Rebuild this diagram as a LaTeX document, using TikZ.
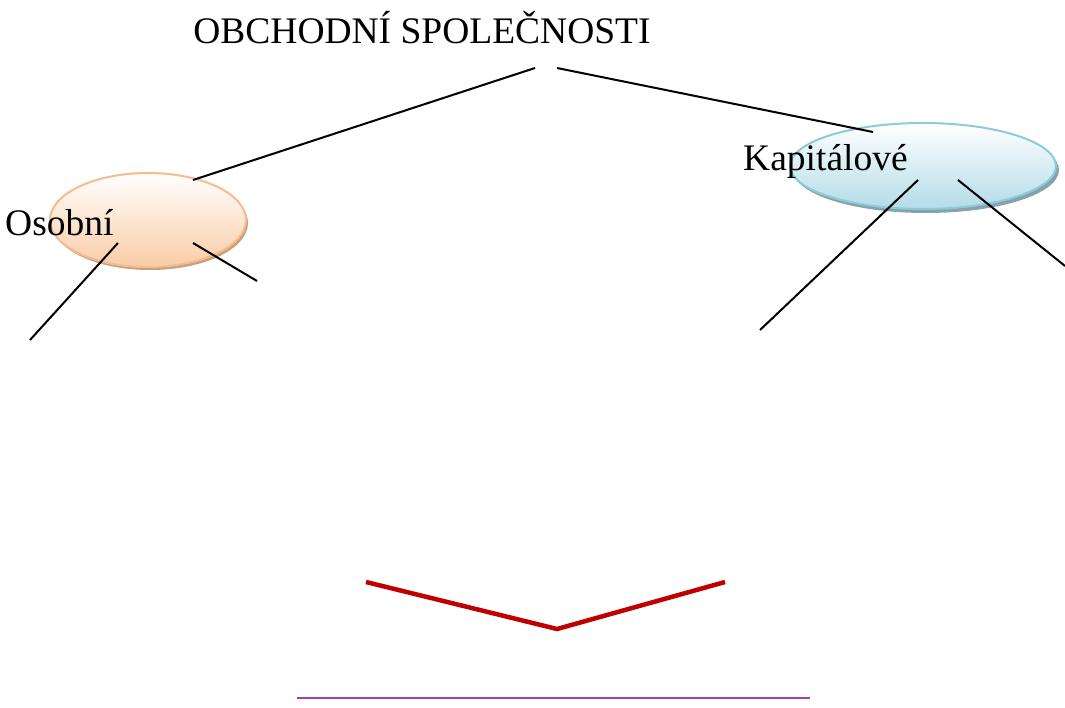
\documentclass[tikz,border=0pt]{standalone}
\usepackage{fontspec}
\setmainfont{Liberation Serif}
\usetikzlibrary{shapes.geometric,shadows}
\definecolor{peachedge}{HTML}{F6BC8E}
\definecolor{peachfill}{HTML}{F9CCA6}
\definecolor{peachshadow}{HTML}{C9A07E}
\definecolor{skyedge}{HTML}{8DCBDA}
\definecolor{skyfill}{HTML}{B3DCE8}
\definecolor{skyshadow}{HTML}{86A3AC}
\definecolor{darkred}{HTML}{C00000}
\definecolor{plum}{HTML}{A040A8}
\tikzset{
  x=1pt, y=-1pt,
  label text/.style={font=\fontsize{37.5}{44}\selectfont, inner sep=0pt},
  branch/.style={draw=black, line width=2pt},
}
\begin{document}
\begin{tikzpicture}
\useasboundingbox (0,0) rectangle (1065,708);

% heading
\node[label text] (title) at (422,28) {OBCHODNÍ SPOLEČNOSTI};

% left bubble with drop shadow
\fill[peachshadow] (150,223) ellipse [x radius=98, y radius=47];
\shade[top color=white, bottom color=peachfill, draw=peachedge, line width=2pt]
  (148,220) ellipse [x radius=98, y radius=47];
\node[label text, anchor=west] (osobni) at (5,223) {Osobní};

% right bubble with drop shadow
\fill[skyshadow] (926,170) ellipse [x radius=133, y radius=43];
\shade[top color=white, bottom color=skyfill, draw=skyedge, line width=2pt]
  (923,166) ellipse [x radius=133, y radius=43];
\node[label text, anchor=west] (kapitalove) at (743,161) {Kapitálové};

% branch end points
\coordinate (tL) at (535,68);
\coordinate (tR) at (557,68);
\coordinate (oT) at (193,180);
\coordinate (kT) at (873,132);
\coordinate (oA) at (118,243);
\coordinate (oA2) at (30,340);
\coordinate (oB) at (193,243);
\coordinate (oB2) at (257,281);
\coordinate (kA) at (918,180);
\coordinate (kA2) at (760,330);
\coordinate (kB) at (958,180);
\coordinate (kB2) at (1065,266);

\draw[branch] (tL) -- (oT);
\draw[branch] (tR) -- (kT);
\draw[branch] (oA) -- (oA2);
\draw[branch] (oB) -- (oB2);
\draw[branch] (kA) -- (kA2);
\draw[branch] (kB) -- (kB2);

% red chevron
\coordinate (vL) at (366,582);
\coordinate (vM) at (557,629);
\coordinate (vR) at (725,582);
\draw[darkred, line width=4.5pt] (vL) -- (vM) -- (vR);

% purple rule
\coordinate (rL) at (297,698);
\coordinate (rR) at (810,698);
\draw[plum, line width=2.2pt] (rL) -- (rR);
\end{tikzpicture}
\end{document}
